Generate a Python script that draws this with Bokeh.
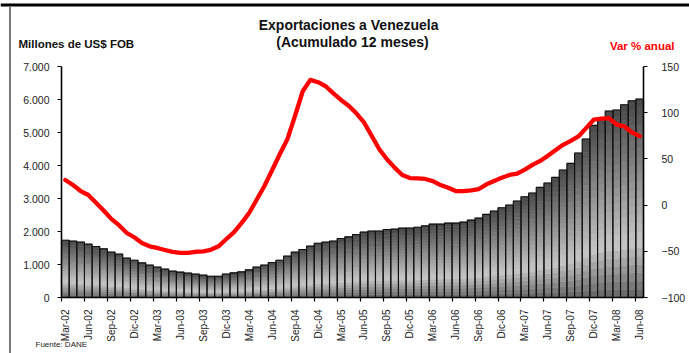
from bokeh.plotting import figure
from bokeh.models import (Range1d, LinearAxis, FixedTicker, Label, PolyAnnotation,
                          ColumnDataSource)
from bokeh.embed import file_html
from bokeh.resources import INLINE
from math import pi

# ---------------- data ----------------
month_names = ["Ene", "Feb", "Mar", "Abr", "May", "Jun", "Jul", "Ago", "Sep", "Oct", "Nov", "Dic"]
months = []
for k in range(76):
    m = (2 + k) % 12
    y = 2 + (2 + k) // 12
    months.append(f"{month_names[m]}-{y:02d}")

exports = [1737, 1707, 1677, 1616, 1545, 1475, 1374, 1313, 1192, 1131, 1050, 980,
           919, 859, 798, 770, 740, 707, 677, 646, 646, 707, 747, 778, 838, 919,
           980, 1060, 1131, 1253, 1374, 1455, 1556, 1646, 1677, 1707, 1788, 1838,
           1909, 1980, 2010, 2010, 2061, 2071, 2101, 2101, 2131, 2170, 2224, 2224,
           2255, 2255, 2285, 2346, 2406, 2518, 2619, 2720, 2801, 2922, 3054, 3165,
           3337, 3468, 3640, 3862, 4065, 4378, 4803, 5217, 5440, 5650, 5680, 5840,
           5960, 6010]

var_pct = [27.2, 21.7, 15.2, 10.9, 2.5, -5.8, -14.9, -21.7, -30.0, -34.8, -41.0, -44.6,
           -46.4, -48.6, -50.7, -51.8, -51.8, -50.5, -50.0, -48.4, -44.6, -37.0, -29.5,
           -19.5, -8.5, 6.0, 20.7, 37.7, 55.0, 71.4, 96.7, 123.2, 135.5, 133.0, 128.6,
           121.0, 113.8, 107.6, 99.3, 89.5, 75.0, 60.5, 49.6, 40.6, 32.6, 29.3, 29.0,
           28.3, 26.0, 21.7, 18.8, 15.2, 15.2, 16.0, 17.4, 22.5, 26.0, 29.7, 32.6, 34.0,
           38.4, 43.5, 47.8, 53.3, 59.4, 65.2, 69.6, 74.3, 83.3, 92.4, 93.5, 94.2, 87.0,
           85.1, 78.6, 74.6]

tick_labels = ["Mar-02", "Jun-02", "Sep-02", "Dic-02", "Mar-03", "Jun-03", "Sep-03",
               "Dic-03", "Mar-04", "Jun-04", "Sep-04", "Dic-04", "Mar-05", "Jun-05",
               "Sep-05", "Dic-05", "Mar-06", "Jun-06", "Sep-06", "Dic-06", "Mar-07",
               "Jun-07", "Sep-07", "Dic-07", "Mar-08", "Jun-08"]
left_ticks = [0, 1000, 2000, 3000, 4000, 5000, 6000, 7000]
left_tick_labels = ["0", "1.000", "2.000", "3.000", "4.000", "5.000", "6.000", "7.000"]
right_ticks = [-100, -50, 0, 50, 100, 150]

# ---------------- layout ----------------
W, H = 689, 353
FONT = "Liberation Sans"
# pixel box of the plotting area inside the picture
PX_L, PX_R, PX_T, PX_B = 61, 643, 66, 297
XA, XB = -0.5, 75.5           # category extent
YA, YB = 0, 7000              # left scale
RA, RB = -100, 150            # right scale

kx = (XB - XA) / (PX_R - PX_L)
ky = (YB - YA) / (PX_B - PX_T)
kr = (RB - RA) / (PX_B - PX_T)

x_range = Range1d(XA - PX_L * kx, XB + (W - PX_R) * kx)
y_range = Range1d(YA - (H - PX_B) * ky, YB + PX_T * ky)
r_range = Range1d(RA - (H - PX_B) * kr, RB + PX_T * kr)


def dx(px):
    return XA + (px - PX_L) * kx


def dy(py):
    return YA + (PX_B - py) * ky


p = figure(width=W, height=H, output_backend="svg", toolbar_location=None,
           x_range=x_range, y_range=y_range,
           min_border=0, min_border_left=0, min_border_right=0,
           min_border_top=0, min_border_bottom=0)
p.title.visible = False
p.extra_y_ranges = {"pct": r_range}
p.xgrid.grid_line_color = None
p.ygrid.grid_line_color = None
p.outline_line_color = None
p.background_fill_color = "white"
p.border_fill_color = "white"

# ---------------- bars with vertical gradient ----------------
N = 24
stops = [(0.0, 72), (0.72, 198), (1.0, 100)]


def shade(f):
    for (a, ca), (b, cb) in zip(stops[:-1], stops[1:]):
        if a <= f <= b:
            t = (f - a) / (b - a)
            return int(round(ca + (cb - ca) * t))
    return stops[-1][1]


xs, bots, tops, cols = [], [], [], []
for i, v in enumerate(exports):
    for k in range(N):
        xs.append(i)
        bots.append(v * k / N)
        tops.append(v * (k + 1) / N)
        f = 1 - (k + 0.5) / N
        g = shade(f)
        cols.append(f"#{g:02x}{g:02x}{g:02x}")

src = ColumnDataSource(dict(x=xs, bottom=bots, top=tops, color=cols))
p.vbar(x="x", bottom="bottom", top="top", width=1.0, fill_color="color",
       line_color="color", line_width=0.6, source=src)
p.vbar(x=list(range(len(exports))), top=exports, bottom=0, width=1.0,
       fill_color=None, line_color="#111111", line_width=1.1)

# ---------------- line ----------------
p.line(x=list(range(len(var_pct))), y=var_pct, y_range_name="pct",
       line_color="#ff0000", line_width=4.3, line_join="round", line_cap="round")

# ---------------- axes ----------------
def style_axis(ax):
    ax.axis_line_color = "black"
    ax.axis_line_width = 1.6
    ax.major_tick_line_color = "black"
    ax.major_tick_line_width = 1.2
    ax.major_tick_out = 4
    ax.major_tick_in = 0
    ax.minor_tick_line_color = None
    ax.major_label_text_font = FONT
    ax.major_label_text_font_size = "10.5px"
    ax.major_label_text_color = "#222222"


ya = p.yaxis[0]
style_axis(ya)
ya.ticker = FixedTicker(ticks=left_ticks)
ya.major_label_overrides = {t: s for t, s in zip(left_ticks, left_tick_labels)}
ya.fixed_location = XA
ya.bounds = (YA, YB)
ya.major_label_standoff = 8

ra = LinearAxis(y_range_name="pct", ticker=FixedTicker(ticks=right_ticks))
style_axis(ra)
ra.fixed_location = XB
ra.bounds = (RA, RB)
ra.major_label_standoff = 14
p.add_layout(ra, "right")

label_pos = [3 * j for j in range(len(tick_labels))]
xa = p.xaxis[0]
style_axis(xa)
xa.ticker = FixedTicker(ticks=label_pos, minor_ticks=[t - 0.5 for t in label_pos])
xa.major_label_overrides = {t: s for t, s in zip(label_pos, tick_labels)}
xa.major_label_orientation = pi / 2
xa.major_label_text_font_size = "10px"
xa.major_tick_line_color = None
xa.minor_tick_line_color = "black"
xa.minor_tick_line_width = 1.2
xa.minor_tick_out = 4
xa.minor_tick_in = 0
xa.fixed_location = YA
xa.bounds = (XA, XB)
xa.major_label_standoff = 8

# ---------------- texts ----------------
def add_text(px, py, text, align="left", size="10.5px", bold=True, color="#111111"):
    p.add_layout(Label(x=dx(px), y=dy(py), text=text, text_align=align,
                       text_baseline="middle", text_font=FONT,
                       text_font_style="bold" if bold else "normal",
                       text_font_size=size, text_color=color))


add_text(352, 24, "Exportaciones  a  Venezuela", align="center", size="14px")
add_text(352, 41, "(Acumulado 12 meses)", align="center", size="14px")
add_text(18, 43, "Millones de US$ FOB", size="11.5px")
add_text(674, 45, "Var % anual", align="right", size="11.5px", color="#ff0000")
add_text(35, 344, "Fuente: DANE", size="8px", bold=False, color="#222222")

# ---------------- frame decorations ----------------
p.add_layout(PolyAnnotation(xs=[dx(0), dx(W), dx(W), dx(0)],
                            ys=[dy(3), dy(3), dy(6), dy(6)],
                            fill_color="black", fill_alpha=1.0, line_color=None))
p.add_layout(PolyAnnotation(xs=[dx(8.5), dx(10.5), dx(10.5), dx(8.5)],
                            ys=[dy(6), dy(6), dy(H), dy(H)],
                            fill_color="#7a7a7a", fill_alpha=1.0, line_color=None))

open("out.html", "w").write(file_html(p, INLINE))
